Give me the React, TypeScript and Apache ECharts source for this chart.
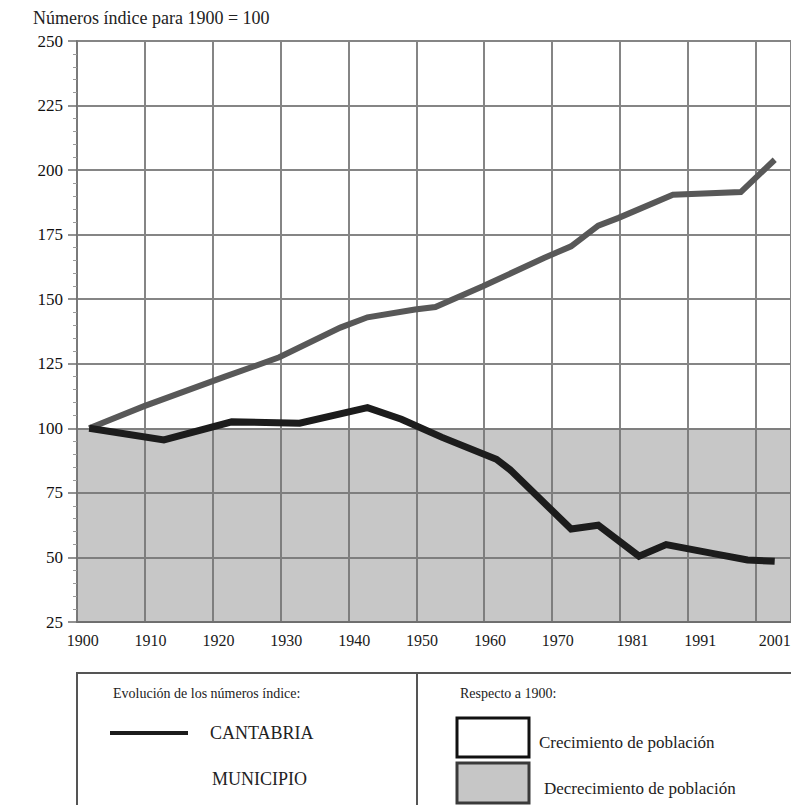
import React, { useEffect, useRef } from 'react';
import * as echarts from 'echarts';

const TITLE = 'Números índice para 1900 = 100';
const X_LABEL_YEARS = [1900, 1910, 1920, 1930, 1940, 1950, 1960, 1970, 1981, 1991, 2001];
const Y_MIN = 25;
const Y_MAX = 250;
const Y_STEP = 25;
const BASE_VALUE = 100;

const CANTABRIA_NAME = 'CANTABRIA';
const CANTABRIA_YEARS = [1900, 1911, 1921, 1931, 1941, 1946, 1952, 1960, 1962, 1971, 1975, 1981, 1985, 1992, 1997, 2001];
const CANTABRIA_VALUES = [100, 95.5, 102.5, 102, 108, 103.5, 96.5, 88, 84, 61, 62.5, 50.5, 55, 51.5, 49, 48.5];

const MUNICIPIO_NAME = 'MUNICIPIO';
const MUNICIPIO_YEARS = [1900, 1908, 1920, 1928, 1937, 1941, 1948, 1951, 1958, 1967, 1971, 1975, 1978, 1986, 1996, 2001];
const MUNICIPIO_VALUES = [100, 108.5, 120, 127.5, 139, 143, 146, 147, 155, 166, 170.5, 178.5, 181.5, 190.5, 191.5, 204];

const LEGEND_LEFT_TITLE = 'Evolución de los números índice:';
const LEGEND_RIGHT_TITLE = 'Respecto a 1900:';
const GROWTH_LABEL = 'Crecimiento de población';
const DECLINE_LABEL = 'Decrecimiento de población';

const SERIF = 'Liberation Serif';

export default function App() {
  const ref = useRef<HTMLDivElement>(null);

  useEffect(() => {
    if (!ref.current) return;
    const chart = echarts.init(ref.current, undefined, { renderer: 'svg' });

    const X_MIN = 1898.2;
    const X_MAX = 2003.4;
    const GRID_SPAN = 105.2;
    const LAST_YEAR = X_LABEL_YEARS[X_LABEL_YEARS.length - 1];

    const zip = (xs: number[], ys: number[]) => xs.map((x, i) => [x, ys[i]]);

    const option: any = {
      animation: false,
      backgroundColor: '#ffffff',
      textStyle: { fontFamily: SERIF },
      grid: {
        left: 77,
        top: 41,
        right: 0,
        bottom: 183,
        containLabel: false,
        outerBoundsMode: 'none',
      },
      xAxis: [
        {
          type: 'value',
          min: X_MIN,
          max: X_MAX,
          axisLine: { show: false },
          axisTick: { show: false },
          splitLine: { show: false },
          axisLabel: {
            customValues: X_LABEL_YEARS,
            hideOverlap: false,
            formatter: (v: number) => {
              const y = Math.round(v);
              return y === LAST_YEAR ? `{last|${y}}` : `{n|${y}}`;
            },
            fontFamily: SERIF,
            fontSize: 16,
            color: '#1a1a1a',
            margin: 10,
            rich: {
              n: { fontFamily: SERIF, fontSize: 16, color: '#1a1a1a', padding: [0, 13, 0, 0] },
              last: { fontFamily: SERIF, fontSize: 16, color: '#1a1a1a', padding: [0, 0, 0, 0] },
            },
          },
        },
        {
          type: 'value',
          min: 0,
          max: GRID_SPAN,
          interval: 10,
          position: 'bottom',
          axisLine: { show: true, lineStyle: { color: '#6e6e6e', width: 2 } },
          axisTick: { show: false },
          axisLabel: { show: false },
          splitLine: { show: true, lineStyle: { color: '#858585', width: 2 } },
        },
      ],
      yAxis: {
        type: 'value',
        min: Y_MIN,
        max: Y_MAX,
        interval: Y_STEP,
        axisLine: { show: true, lineStyle: { color: '#7a7a7a', width: 2 } },
        axisTick: { show: true, length: 9, lineStyle: { color: '#6e6e6e', width: 1.5 } },
        minorTick: { show: true, splitNumber: 5, length: 4, lineStyle: { color: '#9a9a9a', width: 1 } },
        splitLine: { show: true, lineStyle: { color: '#858585', width: 2 } },
        axisLabel: {
          fontFamily: SERIF,
          fontSize: 17,
          color: '#111',
          margin: 14,
        },
      },
      series: [
        {
          name: MUNICIPIO_NAME,
          type: 'line',
          xAxisIndex: 0,
          data: zip(MUNICIPIO_YEARS, MUNICIPIO_VALUES),
          symbol: 'none',
          z: 3,
          lineStyle: { color: '#585858', width: 6, cap: 'butt', join: 'miter' },
          markArea: {
            silent: true,
            z: 1,
            itemStyle: { color: 'rgba(115,115,115,0.4)' },
            data: [[{ yAxis: Y_MIN }, { yAxis: BASE_VALUE }]],
          },
        },
        {
          name: CANTABRIA_NAME,
          type: 'line',
          xAxisIndex: 0,
          data: zip(CANTABRIA_YEARS, CANTABRIA_VALUES),
          symbol: 'none',
          z: 4,
          lineStyle: { color: '#1c1c1c', width: 7, cap: 'butt', join: 'miter' },
        },
      ],
      graphic: [
        {
          type: 'text',
          left: 33,
          top: 9,
          style: { text: TITLE, fontFamily: SERIF, fontSize: 18, fill: '#222' },
        },
        {
          type: 'rect',
          shape: { x: 77, y: 673, width: 760, height: 200 },
          style: { fill: 'none', stroke: '#555', lineWidth: 2 },
        },
        {
          type: 'line',
          shape: { x1: 417, y1: 673, x2: 417, y2: 810 },
          style: { stroke: '#555', lineWidth: 2 },
        },
        {
          type: 'text',
          x: 113,
          y: 693,
          style: { text: LEGEND_LEFT_TITLE, fontFamily: SERIF, fontSize: 14, fill: '#222', verticalAlign: 'middle' },
        },
        {
          type: 'line',
          shape: { x1: 110, y1: 733, x2: 188, y2: 733 },
          style: { stroke: '#1c1c1c', lineWidth: 4 },
        },
        {
          type: 'text',
          x: 210,
          y: 733,
          style: { text: CANTABRIA_NAME, fontFamily: SERIF, fontSize: 18, fill: '#222', verticalAlign: 'middle' },
        },
        {
          type: 'text',
          x: 212,
          y: 779,
          style: { text: MUNICIPIO_NAME, fontFamily: SERIF, fontSize: 18, fill: '#222', verticalAlign: 'middle' },
        },
        {
          type: 'text',
          x: 460,
          y: 693,
          style: { text: LEGEND_RIGHT_TITLE, fontFamily: SERIF, fontSize: 14, fill: '#222', verticalAlign: 'middle' },
        },
        {
          type: 'rect',
          shape: { x: 457, y: 718, width: 72, height: 39 },
          style: { fill: '#fff', stroke: '#111', lineWidth: 3 },
        },
        {
          type: 'text',
          x: 539,
          y: 742,
          style: { text: GROWTH_LABEL, fontFamily: SERIF, fontSize: 17, fill: '#222', verticalAlign: 'middle' },
        },
        {
          type: 'rect',
          shape: { x: 457, y: 763, width: 72, height: 40 },
          style: { fill: '#c6c6c6', stroke: '#3a3a3a', lineWidth: 3 },
        },
        {
          type: 'text',
          x: 544,
          y: 788,
          style: { text: DECLINE_LABEL, fontFamily: SERIF, fontSize: 17, fill: '#222', verticalAlign: 'middle' },
        },
      ],
    };

    chart.setOption(option);
    return () => chart.dispose();
  }, []);

  return (
    <div
      ref={ref}
      style={{ position: 'absolute', left: 0, top: 0, width: 791, height: 805 }}
    />
  );
}
